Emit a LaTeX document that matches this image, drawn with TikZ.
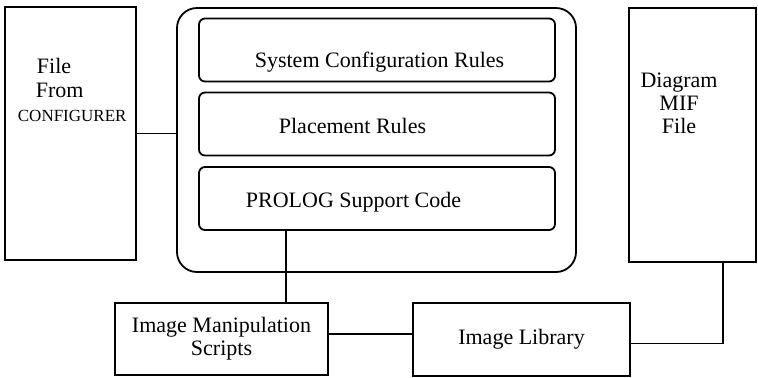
\documentclass[tikz,border=0pt]{standalone}
\usepackage{fontspec}
\setmainfont{Liberation Serif}
\begin{document}
\begin{tikzpicture}[x=0.5pt,y=-0.5pt,line width=0.9pt,
  font=\fontsize{11}{11.5}\selectfont,
  box/.style={draw,rectangle,inner sep=0pt},
  rulebox/.style={box,rounded corners=3pt,minimum width=178pt,minimum height=31.5pt},
  txt/.style={anchor=base,inner sep=0pt}]

\useasboundingbox (0,0) rectangle (758,377);

% outer boxes
\node[box,minimum width=65.5pt,minimum height=126.5pt] (cfg) at (70.5,133.5) {};
\node[box,minimum width=63.5pt,minimum height=127pt] (mif) at (692.5,135) {};
\node[box,minimum width=106.5pt,minimum height=36pt,align=center] (ims) at (221.5,339) {Image Manipulation\\Scripts};
\node[box,minimum width=108.5pt,minimum height=36.5pt] (lib) at (521.5,339.5) {Image Library};

% rule base
\node[box,rounded corners=10pt,minimum width=199.5pt,minimum height=132pt] (core) at (376.5,140) {};
\node[rulebox] (sys) at (377,50) {};
\node[rulebox] (place) at (377,124) {};
\node[rulebox] (prolog) at (377,198.5) {};

% texts
\node[txt] (systxt) at (379.5,67) {System Configuration Rules};
\node[txt] (placetxt) at (352.5,133) {Placement Rules};
\node[txt] (prologtxt) at (353.5,207) {PROLOG Support Code};
\node[anchor=north west,inner sep=0pt,align=left,font=\fontsize{11}{12}\selectfont] (cfgtxt) at (17,57)
  {\hspace{9.5pt}File\\\hspace{9pt}From\\{\fontsize{8.5}{12}\selectfont CONFIGURER}};
\node[inner sep=0pt,align=center] (miftxt) at (679,103) {Diagram\\MIF\\File};

% links
\draw (cfg.east) -- (cfg.east -| core.west);
\draw (286,0 |- prolog.south) -- (286,0 |- ims.north);
\draw ([yshift=2.5pt]ims.east) -- ([yshift=2.5pt]ims.east -| lib.west);
\draw ([yshift=-2pt]lib.east) -| ([xshift=15.25pt]mif.south);
\end{tikzpicture}
\end{document}
